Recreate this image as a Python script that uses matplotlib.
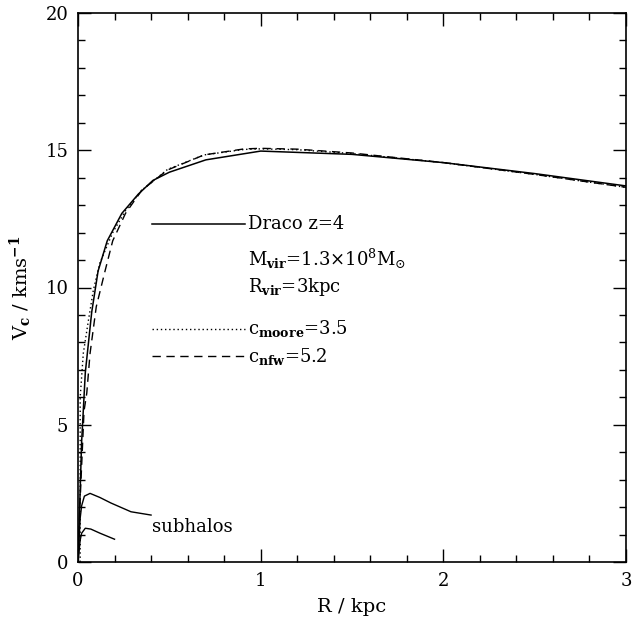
import numpy as np
import matplotlib
matplotlib.use("Agg")
import matplotlib.pyplot as plt
from matplotlib.ticker import MultipleLocator

plt.rcParams['font.family'] = ['DejaVu Serif']
plt.rcParams['mathtext.fontset'] = 'dejavuserif'

# Draco z=4 simulated rotation curve
r_draco = [0.0, 0.02, 0.04, 0.075, 0.11, 0.16, 0.24, 0.33, 0.41, 0.5, 0.7, 1.0, 1.5, 2.0, 2.5, 3.0]
v_draco = [0.0, 4.4, 6.9, 9.1, 10.6, 11.7, 12.7, 13.4, 13.9, 14.2, 14.65, 14.97, 14.85, 14.55, 14.15, 13.7]

# Moore fit
r_moore = [0.012, 0.012, 0.029, 0.057, 0.084, 0.12, 0.19, 0.26, 0.35, 0.49, 0.69, 0.91, 1.0, 1.2, 1.5, 2.0, 2.5, 3.0]
v_moore = [0.0, 6.0, 7.6, 8.8, 9.9, 10.9, 12.0, 12.8, 13.55, 14.3, 14.83, 15.03, 15.05, 15.02, 14.88, 14.55, 14.12, 13.65]

# NFW fit
r_nfw = [0.0, 0.01, 0.033, 0.048, 0.066, 0.10, 0.148, 0.19, 0.26, 0.35, 0.49, 0.69, 0.91, 1.0, 1.2, 1.5, 2.0, 2.5, 3.0]
v_nfw = [0.0, 2.0, 5.5, 6.15, 7.6, 9.3, 10.6, 11.7, 12.7, 13.55, 14.28, 14.83, 15.05, 15.07, 15.04, 14.9, 14.55, 14.12, 13.65]

# subhalos
r_sub1 = [0.0, 0.012, 0.02, 0.035, 0.066, 0.12, 0.18, 0.29, 0.40]
v_sub1 = [0.0, 1.6, 2.05, 2.4, 2.5, 2.35, 2.15, 1.83, 1.71]
r_sub2 = [0.0, 0.012, 0.02, 0.04, 0.07, 0.12, 0.2]
v_sub2 = [0.0, 0.8, 1.05, 1.23, 1.2, 1.05, 0.83]

fig = plt.figure(figsize=(6.41, 6.21), dpi=100)
ax = fig.add_axes([78/641, 1-562/621, 548/641, 549/621])

ax.plot(r_draco, v_draco, color='black', lw=1.1)
ax.plot(r_moore, v_moore, color='black', lw=1.0, ls=(0, (1, 2)))
ax.plot(r_nfw, v_nfw, color='black', lw=1.0, ls=(0, (6, 4)))
ax.plot(r_sub1, v_sub1, color='black', lw=1.0)
ax.plot(r_sub2, v_sub2, color='black', lw=1.0)

ax.set_xlim(0, 3)
ax.set_ylim(0, 20)
ax.xaxis.set_major_locator(MultipleLocator(1))
ax.xaxis.set_minor_locator(MultipleLocator(0.2))
ax.yaxis.set_major_locator(MultipleLocator(5))
ax.yaxis.set_minor_locator(MultipleLocator(1))
ax.tick_params(which='both', direction='in', top=True, right=True, labelsize=13, width=1.0)
ax.tick_params(which='major', length=9.5, pad=7)
ax.tick_params(which='minor', length=5)
for s in ax.spines.values():
    s.set_linewidth(1.2)

ax.set_xlabel('R / kpc', fontsize=14, labelpad=6)
ax.set_ylabel(r'V$_{\mathbf{c}}$ / kms$^{\mathbf{-1}}$', fontsize=14, labelpad=8)

# legend drawn by hand like the original
fs = 13
lx0, lx1, tx = 0.135, 0.305, 0.31
ax.plot([lx0 * 3, lx1 * 3], [12.3, 12.3], color='black', lw=1.1)
ax.plot([lx0 * 3, lx1 * 3], [8.5, 8.5], color='black', lw=1.0, ls=(0, (1, 2)))
ax.plot([lx0 * 3, lx1 * 3], [7.5, 7.5], color='black', lw=1.0, ls=(0, (6, 4)))
ax.text(tx, 12.3 / 20, 'Draco z=4', transform=ax.transAxes, fontsize=fs, va='center')
ax.text(tx, 11.05 / 20, r'M$_{\mathbf{vir}}$=1.3$\times$10$^{8}$M$_{\odot}$', transform=ax.transAxes, fontsize=fs, va='center')
ax.text(tx, 10.0 / 20, r'R$_{\mathbf{vir}}$=3kpc', transform=ax.transAxes, fontsize=fs, va='center')
ax.text(tx, 8.5 / 20, r'c$_{\mathbf{moore}}$=3.5', transform=ax.transAxes, fontsize=fs, va='center')
ax.text(tx, 7.5 / 20, r'c$_{\mathbf{nfw}}$=5.2', transform=ax.transAxes, fontsize=fs, va='center')
ax.text(0.135, 1.27 / 20, 'subhalos', transform=ax.transAxes, fontsize=fs, va='center')

fig.savefig('out.png', dpi=100)
